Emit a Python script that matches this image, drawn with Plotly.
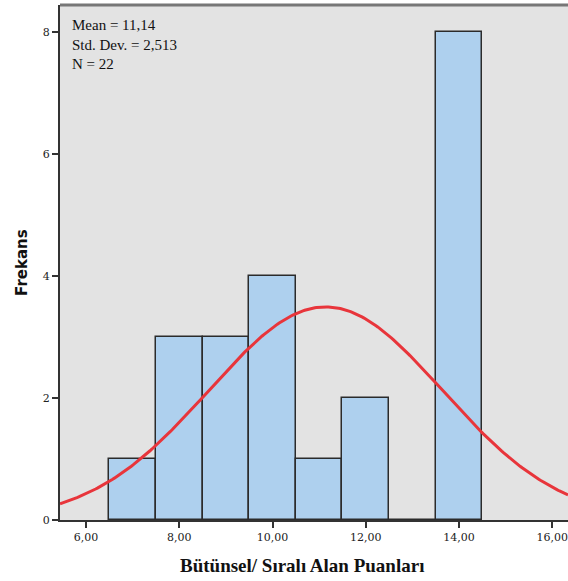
import numpy as np
import plotly.graph_objects as go

# Histogram data: bin centers and frequencies
bin_centers = [7, 8, 9, 10, 11, 12, 13, 14]
frequencies = [1, 3, 3, 4, 1, 2, 0, 8]

# Summary statistics
mean_val = 11.14
sd_val = 2.513
n_val = 22
bin_width = 1.0

x_tickvals = [6, 8, 10, 12, 14, 16]
x_ticktext = ["6,00", "8,00", "10,00", "12,00", "14,00", "16,00"]
y_tickvals = [0, 2, 4, 6, 8]

x_range = [5.44, 16.34]
y_range = [0, 8.44]

# Normal curve scaled to counts
xc = np.linspace(x_range[0], x_range[1], 300)
yc = n_val * bin_width / (sd_val * np.sqrt(2 * np.pi)) * np.exp(-0.5 * ((xc - mean_val) / sd_val) ** 2)

fig = go.Figure()
fig.add_trace(go.Bar(
    x=bin_centers, y=frequencies, width=bin_width,
    marker=dict(color="#aed0ee", line=dict(color="#2b2b2b", width=1.5)),
    hoverinfo="x+y",
))
fig.add_trace(go.Scatter(
    x=xc, y=yc, mode="lines",
    line=dict(color="#e8353b", width=3),
))

fig.update_layout(
    width=568, height=581,
    margin=dict(l=60, r=0, t=5, b=61),
    paper_bgcolor="white",
    plot_bgcolor="#e3e3e3",
    showlegend=False,
    bargap=0,
    font=dict(family="Liberation Serif", color="#111111"),
)
fig.update_xaxes(
    range=x_range, tickvals=x_tickvals, ticktext=x_ticktext,
    ticks="outside", ticklen=6, tickwidth=1.5, tickcolor="#333333",
    tickfont=dict(family="DejaVu Serif", size=11, color="#222222"),
    showgrid=False, zeroline=False,
    showline=True, linecolor="#333333", linewidth=2,
)
fig.update_yaxes(
    range=y_range, tickvals=y_tickvals,
    ticks="outside", ticklen=6, tickwidth=1.5, tickcolor="#333333",
    tickfont=dict(family="DejaVu Serif", size=11, color="#222222"),
    showgrid=False, zeroline=False,
    showline=True, linecolor="#333333", linewidth=2,
)
# Top border of the plot frame
fig.add_shape(type="line", xref="paper", yref="paper", x0=0, x1=1, y0=1, y1=1,
              line=dict(color="#777777", width=3))

# Axis titles
fig.add_annotation(text="<b>Bütünsel/ Sıralı Alan Puanları</b>", xref="paper", yref="paper",
                   x=(302 - 60) / 508, y=-0.088, yanchor="middle", showarrow=False,
                   font=dict(family="Liberation Serif", size=19, color="#111111"))
fig.add_annotation(text="<b>Frekans</b>", xref="paper", yref="paper",
                   x=-0.076, y=0.5, xanchor="center", textangle=-90, showarrow=False,
                   font=dict(family="DejaVu Sans", size=15, color="#111111"))

# Statistics box text
fig.add_annotation(
    text=f"Mean = {mean_val:.2f}".replace(".", ",") + "<br>"
         + f"Std. Dev. = {sd_val:.3f}".replace("Dev,", "Dev.").replace("2.", "2,") + "<br>"
         + f"N = {n_val}",
    xref="paper", yref="paper", x=(70 - 60) / 508, y=1 - (15 - 5) / 515,
    xanchor="left", yanchor="top", align="left", showarrow=False,
    font=dict(family="Liberation Serif", size=15, color="#111111"),
)

fig.write_html("out.html")
